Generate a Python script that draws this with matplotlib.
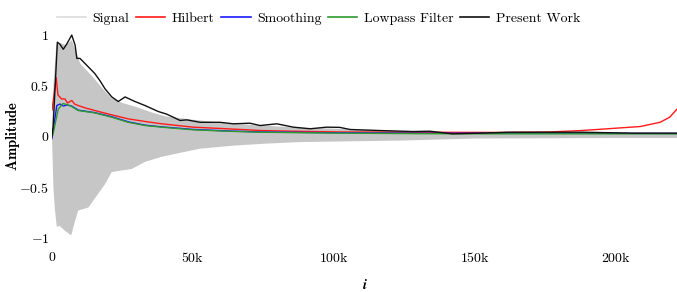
import numpy as np
import matplotlib
matplotlib.use("Agg")
import matplotlib.pyplot as plt
from matplotlib.lines import Line2D

plt.rcParams['font.family'] = ['cmr10', 'DejaVu Serif']
plt.rcParams['mathtext.fontset'] = 'cm'
plt.rcParams['axes.formatter.use_mathtext'] = True
plt.rcParams['font.size'] = 10

# ---- data (x in thousands of samples) ----
sig_up_x = [0, 0.5, 1.5, 3, 5, 7, 9, 10, 12, 15, 18, 21, 25, 30, 35, 40, 50, 62, 74, 86, 102, 125, 150, 200, 221.6]
sig_up_y = [0, 0.5, 0.9, 0.92, 0.9, 0.95, 0.8, 0.72, 0.66, 0.57, 0.47, 0.38, 0.33, 0.29, 0.24, 0.2, 0.165, 0.13, 0.108, 0.09, 0.075, 0.05, 0.04, 0.035, 0.03]
sig_lo_x = [0, 0.5, 1, 1.7, 2.7, 4.6, 6.8, 8, 9.3, 12.9, 15.2, 18.8, 21.2, 24.7, 28.3, 33, 38.9, 52.5, 64.3, 76, 88, 100, 124, 150, 200, 221.6]
sig_lo_y = [0, -0.5, -0.71, -0.89, -0.88, -0.93, -0.975, -0.85, -0.73, -0.70, -0.61, -0.47, -0.35, -0.335, -0.32, -0.25, -0.20, -0.12, -0.09, -0.07, -0.055, -0.05, -0.04, -0.02, -0.015, -0.015]

work_x = [0, 0.4, 1.9, 2.8, 4.0, 5.2, 7.0, 8.2, 8.8, 9.9, 11.7, 15.2, 17, 18.8, 21.2, 23.5, 25.9, 29.4, 33, 37.7, 40.7, 43, 45.4, 47.8, 52.5, 59.6, 64.3, 70.2, 73.8, 79.7, 85.6, 91.5, 97.4, 102, 105.7, 116, 128, 134, 142, 152, 162, 171, 188, 206, 221.6]
work_y = [0.0, 0.1, 0.93, 0.91, 0.86, 0.91, 1.0, 0.90, 0.77, 0.77, 0.72, 0.62, 0.55, 0.47, 0.39, 0.345, 0.39, 0.345, 0.305, 0.246, 0.22, 0.19, 0.158, 0.164, 0.14, 0.14, 0.125, 0.131, 0.108, 0.125, 0.092, 0.076, 0.092, 0.09, 0.069, 0.059, 0.049, 0.052, 0.026, 0.033, 0.042, 0.042, 0.042, 0.033, 0.033]

hil_x = [0, 1.5, 2.1, 3.4, 4.6, 5.5, 7, 8, 9.3, 12, 15.2, 21.2, 27, 33, 38.9, 50, 62, 73.8, 85.6, 102, 130, 159, 176.6, 188, 200, 208.5, 215.6, 219, 221.6]
hil_y = [0.26, 0.58, 0.41, 0.37, 0.37, 0.33, 0.355, 0.32, 0.305, 0.28, 0.256, 0.213, 0.174, 0.148, 0.125, 0.092, 0.076, 0.059, 0.052, 0.045, 0.042, 0.04, 0.045, 0.059, 0.082, 0.098, 0.14, 0.19, 0.27]

smo_x = [0, 1.7, 2.8, 4.0, 5.2, 7, 9.3, 15.2, 21.2, 27, 33, 38.9, 50, 62, 73.8, 102, 130, 160, 190, 221.6]
smo_y = [-0.02, 0.305, 0.32, 0.30, 0.31, 0.30, 0.26, 0.235, 0.195, 0.145, 0.112, 0.095, 0.07, 0.055, 0.045, 0.036, 0.032, 0.032, 0.032, 0.03]

low_x = [0, 0.5, 2.2, 3.9, 4.6, 6.4, 9.3, 15.2, 21.2, 27, 33, 38.9, 50, 62, 73.8, 102, 130, 160, 190, 221.6]
low_y = [0.0, 0.04, 0.27, 0.325, 0.32, 0.305, 0.256, 0.233, 0.19, 0.14, 0.108, 0.092, 0.066, 0.052, 0.042, 0.033, 0.028, 0.026, 0.026, 0.026]

labels = ['Signal', 'Hilbert', 'Smoothing', 'Lowpass Filter', 'Present Work']
colors = ['#dcdcdc', '#ff1a1a', '#1a1aff', '#2e9a2e', '#111111']
xticks = [0, 50, 100, 150, 200]
xticklabels = ['$0$', '$50\\mathrm{k}$', '$100\\mathrm{k}$', '$150\\mathrm{k}$', '$200\\mathrm{k}$']
yticks = [-1, -0.5, 0, 0.5, 1]
yticklabels = ['$-1$', '$-0.5$', '$0$', '$0.5$', '$1$']

fig = plt.figure(figsize=(6.77, 2.92), dpi=100)
ax = fig.add_axes([52 / 677, 0.1678, 625 / 677, 0.7295])

sx = np.asarray(sig_up_x + sig_lo_x[::-1]) * 1000
sy = np.asarray(sig_up_y + sig_lo_y[::-1])
ax.fill(sx, sy, color='#c6c6c6', lw=0, zorder=1)

ax.plot(np.asarray(hil_x) * 1000, hil_y, color=colors[1], lw=1.0, zorder=3)
ax.plot(np.asarray(smo_x) * 1000, smo_y, color=colors[2], lw=1.0, zorder=3)
ax.plot(np.asarray(low_x) * 1000, low_y, color=colors[3], lw=1.0, zorder=4)
ax.plot(np.asarray(work_x) * 1000, work_y, color=colors[4], lw=1.0, zorder=5)

ax.set_xlim(0, 221600)
ax.set_ylim(-1.05, 1.05)
ax.set_xticks([v * 1000 for v in xticks])
ax.set_xticklabels(xticklabels)
ax.set_yticks(yticks)
ax.set_yticklabels(yticklabels)
ax.tick_params(length=0, labelsize=10)
ax.tick_params(axis='x', pad=6)
ax.tick_params(axis='y', pad=2)
for s in ax.spines.values():
    s.set_visible(False)

ax.set_ylabel(r'$\mathbf{Amplitude}$', fontsize=10.5, va='center')
ax.yaxis.set_label_coords(-0.062, 0.5)
try:
    ax.set_xlabel(r'$\mathbfit{i}$', fontsize=10.5, va='center')
    fig.canvas.draw()
except Exception:
    ax.set_xlabel(r'$\mathbf{i}$', fontsize=10.5, va='center')
ax.xaxis.set_label_coords(0.5, -0.197)

handles = [Line2D([], [], color=c, lw=1.2) for c in colors]
fig.legend(handles, labels, loc='center left', bbox_to_anchor=(57 / 677, 1 - 18.5 / 292),
           bbox_transform=fig.transFigure, ncol=5, frameon=False, borderpad=0,
           borderaxespad=0, handlelength=2.1, handletextpad=0.45, columnspacing=0.5,
           fontsize=10)

fig.savefig('out.png', dpi=100)
